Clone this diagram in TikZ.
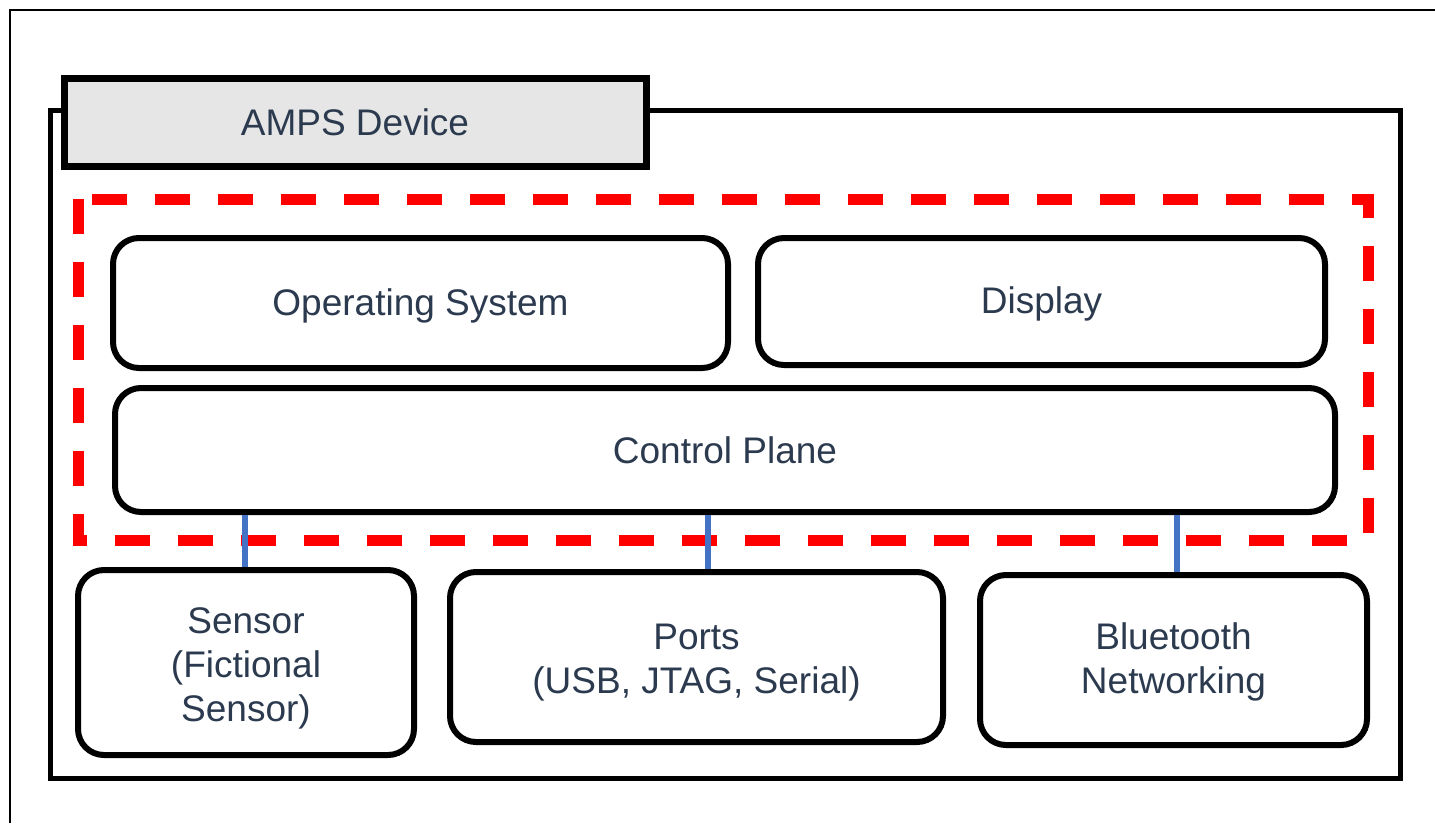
\documentclass[tikz,border=0pt]{standalone}
\usepackage{fontspec}
\setmainfont{Liberation Sans}
\definecolor{txt}{HTML}{2B3A4E}
\definecolor{tabfill}{HTML}{E6E6E6}
\definecolor{linkblue}{HTML}{4472C4}
% label drawn a little lower than its box, keeping the box's reported size
\newcommand{\lowered}[2]{\raisebox{#1}[\height][\depth]{#2}}
% centred multi-line label, lowered a little within its box
\newcommand{\stacklbl}[2]{\lowered{#1}{\begin{tabular}{@{}c@{}}#2\end{tabular}}}
\begin{document}
\begin{tikzpicture}[x=1pt,y=-1pt,
  lbl/.style={text=txt,font=\fontsize{37}{44}\selectfont,align=center},
  block/.style={lbl,draw=black,line width=6pt,rounded corners=26pt,fill=white,inner sep=0pt},
  link/.style={draw=linkblue,line width=6.5pt},
  boundary/.style={draw=red,line width=11pt,dash pattern=on 35pt off 28pt}]
\useasboundingbox (0,0) rectangle (1435,823);
% page frame
\draw[line width=2.5pt] (10,823) -- (10,10) -- (1435,10);
% device enclosure with its title tab
\draw[line width=5pt] (50,110) rectangle (1400,778);
\node[lbl,draw=black,fill=tabfill,line width=7pt,minimum width=582pt,minimum height=88pt,inner sep=0pt]
  (tab) at (355,122) {AMPS Device};
% trust boundary
\draw[boundary] (78,199) rectangle (1368,540);
% inner components
\node[block,minimum width=615pt,minimum height=130pt] (os) at (420.5,303) {\lowered{-3pt}{Operating System}};
\node[block,minimum width=567pt,minimum height=127pt] (disp) at (1041.5,301.5) {\lowered{-2pt}{Display}};
\node[block,minimum width=1220pt,minimum height=124pt] (cp) at (725,450) {Control Plane};
% peripherals
\node[block,minimum width=336pt,minimum height=185pt] (sensor) at (246,662.5) {\stacklbl{-6pt}{Sensor\\(Fictional\\Sensor)}};
\node[block,minimum width=493pt,minimum height=170pt] (ports) at (696.5,657) {\stacklbl{-6pt}{Ports\\(USB, JTAG, Serial)}};
\node[block,minimum width=387pt,minimum height=170pt] (bt) at (1173.5,660) {\stacklbl{-3pt}{Bluetooth\\Networking}};
% links to the control plane
\draw[link] ([xshift=-1pt]sensor.north) -- ([xshift=-1pt]sensor.north |- cp.south);
\draw[link] ([xshift=11.5pt]ports.north) -- ([xshift=11.5pt]ports.north |- cp.south);
\draw[link] ([xshift=3.5pt]bt.north) -- ([xshift=3.5pt]bt.north |- cp.south);
\end{tikzpicture}
\end{document}
